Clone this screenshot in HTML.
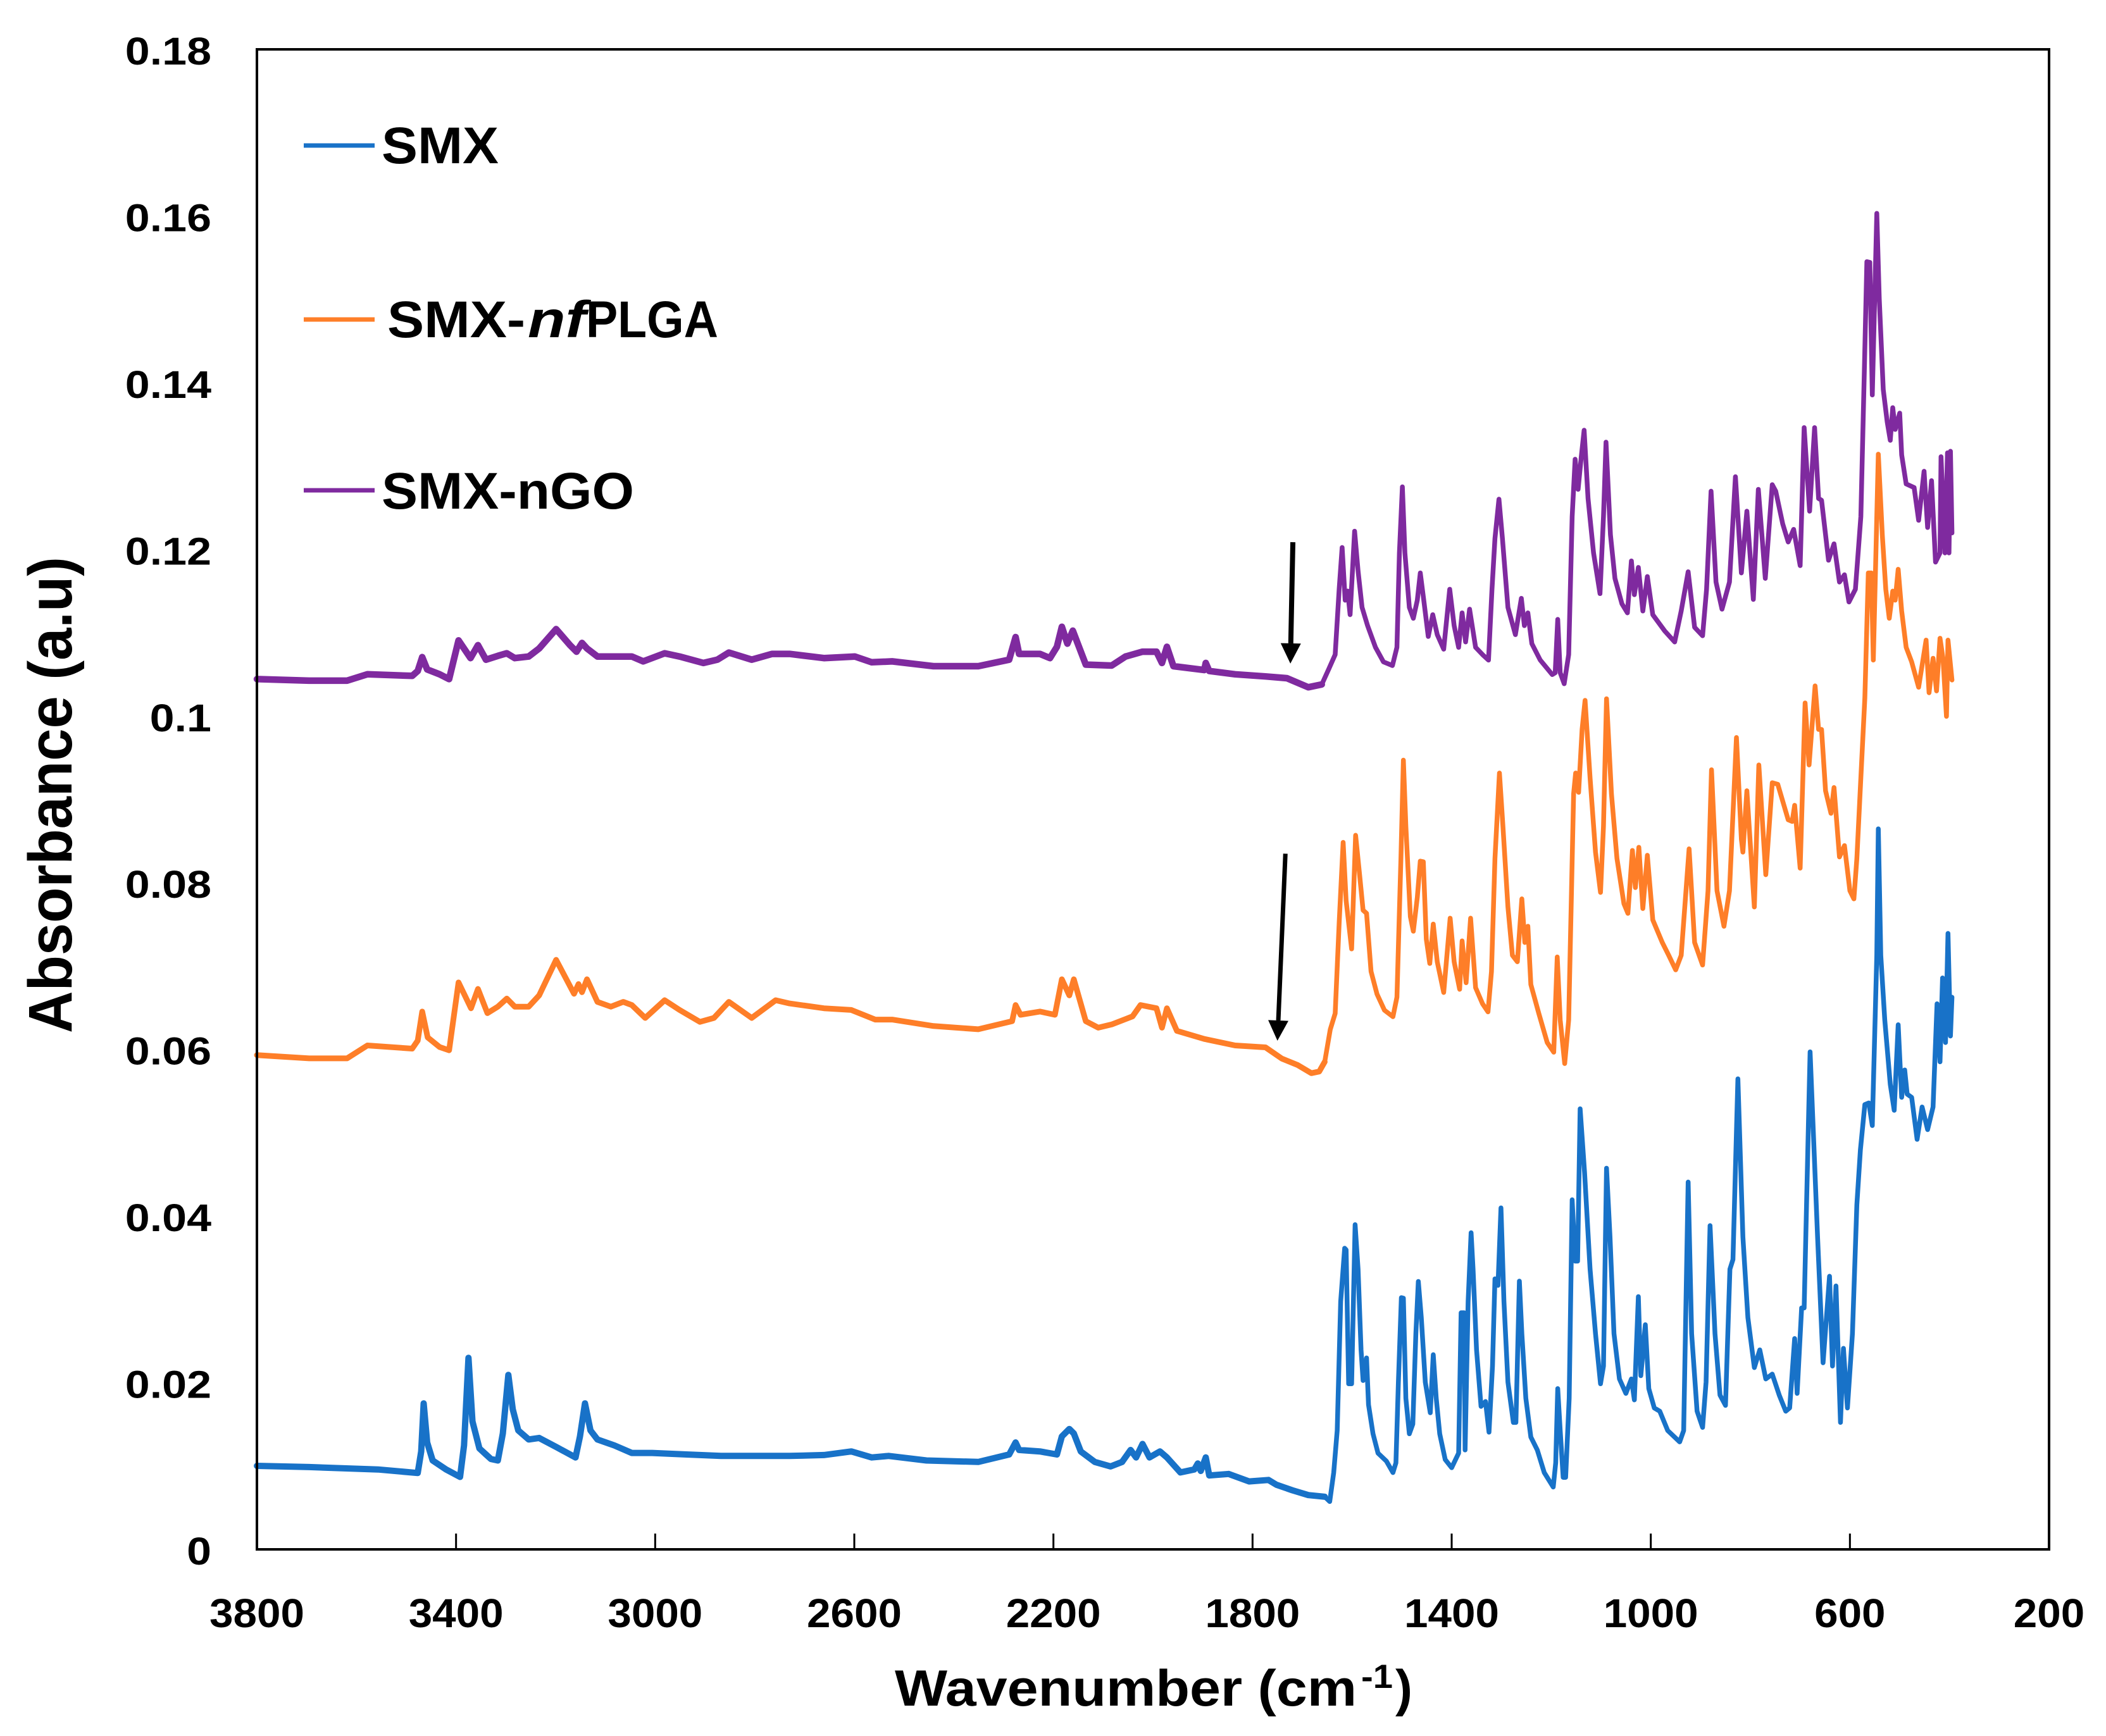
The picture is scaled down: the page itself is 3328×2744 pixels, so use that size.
<!DOCTYPE html>
<html lang="en">
<head>
<meta charset="utf-8">
<title>FTIR absorbance spectra of SMX, SMX-nfPLGA and SMX-nGO</title>
<style>
html,body{margin:0;padding:0;background:#fff;width:3328px;height:2744px;overflow:hidden}
svg{display:block}
text{font-family:"Liberation Sans",sans-serif;font-weight:700;fill:#000}
</style>
</head>
<body>
<svg id="chart" xmlns="http://www.w3.org/2000/svg" width="3328" height="2744" viewBox="0 0 3328 2744">
  <rect x="0" y="0" width="3328" height="2744" fill="#fff"/>
  <g id="series-layer"></g>
  <g id="arrow-layer"></g>
  <rect x="406" y="78" width="2832" height="2371" fill="none" stroke="#000" stroke-width="4"/>
  <g id="x-tick-layer"></g>
  <g id="y-tick-layer"></g>

  <g>
    <text x="1414" y="2696" font-size="81" textLength="730" lengthAdjust="spacingAndGlyphs">Wavenumber (cm</text>
    <text x="2151" y="2668" font-size="53" textLength="50" lengthAdjust="spacingAndGlyphs">-1</text>
    <text x="2205" y="2696" font-size="81" textLength="27" lengthAdjust="spacingAndGlyphs">)</text>
  </g>
  <text transform="translate(113 1633) rotate(-90)" x="0" y="0" font-size="97" textLength="753" lengthAdjust="spacingAndGlyphs">Absorbance (a.u)</text>

  <g>
    <g>
      <line x1="480" x2="592" y1="230" y2="230" stroke="#1872C8" stroke-width="7"/>
      <text x="603" y="258" font-size="82" textLength="185" lengthAdjust="spacingAndGlyphs">SMX</text>
    </g>
    <g>
      <line x1="480" x2="592" y1="505" y2="505" stroke="#FE7E28" stroke-width="7"/>
      <text x="612" y="533" font-size="82" textLength="218" lengthAdjust="spacingAndGlyphs">SMX-</text>
      <text x="834" y="533" font-size="82" font-style="italic" textLength="92" lengthAdjust="spacingAndGlyphs">nf</text>
      <text x="926" y="533" font-size="82" textLength="209" lengthAdjust="spacingAndGlyphs">PLGA</text>
    </g>
    <g>
      <line x1="480" x2="592" y1="775" y2="775" stroke="#7F2A9F" stroke-width="7"/>
      <text x="603" y="804" font-size="82" textLength="399" lengthAdjust="spacingAndGlyphs">SMX-nGO</text>
    </g>
  </g>
</svg>

<script>
const xTickValues = [3800,3400,3000,2600,2200,1800,1400,1000,600,200];
const xTickLabels = ["3800","3400","3000","2600","2200","1800","1400","1000","600","200"];
const yTickValues = [0,0.02,0.04,0.06,0.08,0.1,0.12,0.14,0.16,0.18];
const yTickLabels = ["0","0.02","0.04","0.06","0.08","0.1","0.12","0.14","0.16","0.18"];

const smxWavenumber = [3800,3695,3557,3477,3470,3465,3458,3447,3420,3392,3384,3375,3367,3353,3330,3316,3306,3295,3286,3275,3254,3233,3199,3160,3151,3141,3130,3116,3082,3047,3006,2937,2868,2730,2661,2606,2565,2531,2455,2351,2289,2276,2269,2227,2193,2183,2168,2159,2145,2117,2085,2062,2045,2034,2021,2007,1986,1972,1945,1917,1910,1904,1894,1887,1848,1807,1768,1752,1720,1688,1655,1645,1637,1630,1623,1615,1612,1607,1601,1594,1588,1582,1578,1571,1567,1558,1548,1531,1518,1512,1507,1501,1497,1492,1485,1478,1472,1467,1461,1453,1443,1437,1431,1424,1413,1400,1386,1381,1375,1373,1367,1361,1357,1350,1341,1332,1325,1318,1313,1307,1301,1295,1287,1276,1271,1264,1259,1251,1241,1228,1214,1196,1191,1187,1182,1176,1171,1164,1158,1152,1147,1142,1133,1122,1111,1101,1095,1089,1082,1074,1063,1050,1039,1033,1025,1020,1011,1004,993,982,966,942,934,925,918,907,896,889,881,871,861,850,841,835,825,815,805,792,781,769,756,742,729,721,711,706,697,692,680,665,654,641,635,628,619,613,605,595,586,579,570,562,555,546,543,538,530,519,511,503,496,490,485,476,465,455,444,433,425,419,414,408,403,398,395];
const smxAbsorbance = [.01002,.00988,.00959,.00916,.01175,.01752,.01283,.01067,.00959,.00869,.01247,.02299,.01535,.01211,.01085,.01067,.01391,.02094,.0168,.01427,.01319,.01337,.01229,.01103,.01355,.01752,.01427,.01319,.01247,.01157,.01157,.01139,.01121,.01121,.01132,.01175,.01103,.01121,.01067,.01049,.01139,.01283,.01193,.01175,.01139,.01355,.01445,.01391,.01175,.01049,.00995,.01049,.01193,.01103,.01265,.01103,.01175,.01103,.00923,.00959,.01031,.00941,.01103,.00887,.00905,.00815,.00833,.00775,.00709,.00651,.00632,.00574,.00922,.01426,.02975,.03614,.03595,.01987,.01987,.03897,.03362,.02394,.02026,.02297,.01736,.01387,.01155,.01058,.00922,.01038,.02007,.03021,.03014,.01813,.01387,.01503,.02588,.03215,.02781,.02007,.01639,.02336,.01813,.01387,.01077,.0098,.01155,.02839,.02839,.01193,.02975,.038,.03362,.02394,.01716,.01774,.01406,.022,.03246,.03168,.04098,.02975,.02007,.01523,.01523,.03219,.02588,.01813,.01348,.01193,.00922,.00748,.01038,.01929,.01426,.00864,.00864,.01813,.04195,.03459,.03459,.05287,.04524,.03362,.02588,.01987,.022,.04574,.0375,.02588,.02045,.01871,.02045,.01794,.03033,.02084,.02696,.01929,.01697,.01658,.01426,.0129,.01426,.04408,.02588,.01658,.01464,.02007,.03885,.02588,.01852,.01728,.03362,.03478,.05647,.0375,.02781,.02181,.02394,.02045,.02103,.01852,.01658,.01697,.0253,.01871,.02897,.02897,.0597,.0375,.02239,.03277,.022,.03161,.01523,.02413,.01697,.02588,.04137,.04795,.05337,.05357,.05086,.07128,.08646,.07128,.06353,.05579,.05269,.06295,.05424,.05753,.05463,.05424,.0492,.05308,.05037,.05308,.06547,.0585,.06857,.06082,.07391,.0616,.06625];

const nfplgaWavenumber = [3800,3695,3619,3578,3488,3477,3468,3457,3433,3414,3395,3370,3356,3337,3316,3298,3282,3254,3233,3199,3163,3154,3147,3137,3116,3089,3064,3047,3020,2981,2951,2910,2882,2852,2806,2758,2730,2661,2606,2558,2524,2441,2351,2283,2276,2266,2227,2197,2183,2168,2159,2135,2110,2083,2041,2025,1993,1982,1972,1952,1897,1835,1774,1741,1709,1682,1666,1655,1644,1634,1626,1618,1612,1601,1593,1585,1578,1571,1562,1550,1535,1518,1510,1502,1497,1492,1483,1477,1469,1463,1457,1451,1444,1437,1429,1416,1403,1395,1384,1379,1371,1362,1352,1338,1327,1320,1313,1304,1297,1287,1278,1268,1259,1253,1247,1241,1225,1208,1195,1188,1182,1173,1165,1155,1151,1145,1138,1132,1122,1111,1101,1095,1089,1079,1068,1054,1046,1037,1031,1024,1016,1007,996,977,964,950,939,923,912,896,885,878,867,853,842,828,818,815,807,792,783,769,756,745,724,716,711,700,690,682,670,663,657,649,638,632,621,611,600,592,586,578,570,563,557,553,543,535,528,521,514,509,503,496,487,476,462,447,441,433,426,419,413,406,403,395];
const nfplgaAbsorbance = [.05931,.05892,.05892,.06047,.06009,.06105,.06454,.06144,.06028,.05989,.06803,.06493,.06725,.06435,.06512,.06609,.06512,.06512,.06648,.07074,.06667,.06783,.06686,.06841,.0657,.06512,.0657,.06532,.06377,.0659,.06473,.0633,.06377,.0657,.06377,.0659,.06551,.06493,.06473,.06357,.06357,.0628,.06241,.06338,.06532,.06415,.06454,.06415,.06841,.06648,.06841,.06338,.0626,.06299,.06396,.06532,.06493,.0626,.06493,.06222,.06125,.06047,.06024,.05889,.05811,.05714,.05734,.0585,.06237,.06431,.07515,.08484,.07786,.07205,.08569,.08096,.0767,.07632,.06934,.06663,.0647,.06392,.06625,.0829,.09471,.08677,.07593,.07418,.07825,.08259,.08251,.07322,.07031,.07504,.07051,.06683,.07574,.07051,.06721,.07302,.06799,.07574,.06741,.06547,.0645,.06934,.0829,.09316,.08677,.07709,.07128,.07051,.07806,.07283,.07477,.06779,.06431,.06082,.05966,.07109,.06353,.0583,.06353,.09065,.09316,.09084,.09839,.10188,.09258,.08367,.07883,.08677,.10207,.09065,.0829,.07748,.07632,.08387,.07941,.08425,.0769,.08329,.07554,.07283,.07128,.06954,.07128,.08406,.07283,.07012,.07903,.09355,.07903,.07477,.07903,.09742,.08522,.08367,.09103,.07709,.09413,.08096,.092,.09181,.08755,.08735,.08929,.08174,.10157,.09413,.10362,.09839,.09839,.09103,.08832,.09142,.08309,.08445,.07903,.07806,.0829,.09258,.10214,.11717,.11717,.10671,.13142,.12175,.11521,.11173,.11499,.11391,.11761,.1126,.10824,.1065,.10345,.10911,.10279,.10693,.10301,.10933,.10693,.09996,.10911,.10432];

const ngoWavenumber = [3800,3695,3619,3578,3488,3477,3468,3458,3433,3414,3395,3371,3356,3340,3316,3298,3282,3254,3233,3199,3171,3158,3147,3137,3116,3047,3024,2981,2951,2903,2875,2852,2806,2765,2730,2661,2599,2565,2524,2441,2351,2289,2276,2269,2227,2207,2193,2183,2172,2161,2135,2083,2055,2021,1993,1982,1972,1959,1897,1894,1887,1835,1774,1731,1688,1661,1647,1634,1626,1620,1614,1609,1604,1595,1588,1580,1569,1553,1537,1519,1510,1505,1499,1494,1485,1477,1469,1463,1456,1447,1438,1429,1416,1404,1395,1386,1379,1372,1364,1352,1338,1326,1319,1313,1305,1298,1287,1272,1260,1254,1247,1239,1222,1198,1192,1187,1182,1174,1165,1158,1152,1146,1140,1134,1126,1115,1102,1095,1090,1081,1072,1058,1047,1039,1033,1025,1016,1007,996,972,952,939,925,912,896,888,879,869,857,842,830,818,807,794,784,770,756,749,735,724,713,700,692,681,671,663,657,643,632,621,611,602,589,578,571,566,560,555,546,541,533,525,519,514,509,500,496,487,471,462,451,444,436,428,419,417,409,404,401,398,395];
const ngoAbsorbance = [.10443,.10424,.10424,.10501,.10482,.1054,.10707,.10559,.10501,.10443,.10908,.10695,.1085,.10676,.10722,.10753,.10695,.10714,.10811,.11043,.1085,.10772,.10877,.10811,.10714,.10714,.10656,.10753,.10714,.10637,.10676,.10761,.10676,.10745,.10745,.10695,.10714,.10645,.10656,.10598,.10598,.10676,.10947,.10745,.10745,.10695,.1083,.11071,.10869,.11024,.10617,.10606,.10714,.10772,.10772,.10637,.1083,.10598,.10552,.10637,.1054,.10501,.10475,.10454,.10345,.10379,.10562,.10737,.11521,.12022,.1139,.11499,.11216,.12218,.11739,.11303,.11085,.10824,.1065,.10606,.10824,.11957,.1275,.11957,.11303,.11173,.1139,.11717,.1139,.10955,.11216,.10977,.10802,.11521,.11085,.10824,.11238,.10889,.11282,.10824,.10737,.10671,.11521,.12131,.12602,.12131,.11303,.10977,.11412,.11085,.11238,.10868,.10671,.10497,.10519,.1116,.10519,.10388,.10737,.12393,.13081,.1272,.1309,.1343,.12611,.11957,.11469,.12393,.13286,.12175,.11652,.11347,.11238,.11861,.11456,.11783,.1126,.11674,.11216,.1102,.10889,.1126,.11731,.11064,.10963,.11521,.12698,.11608,.11282,.11608,.12872,.11717,.12458,.11399,.1272,.11652,.12776,.12698,.12306,.12088,.1224,.11805,.13461,.12458,.13461,.12611,.12589,.1187,.12066,.11608,.11695,.11369,.11521,.12393,.14136,.15452,.15443,.13853,.16032,.15008,.13918,.13526,.13308,.137,.13439,.13635,.13134,.12785,.12741,.12349,.12937,.12262,.12825,.11847,.11957,.13112,.11957,.13159,.11957,.13177,.12197];

const arrowNgoWavenumber = [1719,1724];
const arrowNgoAbsorbance = [.12086,.10629];
const arrowNfplgaWavenumber = [1734,1750];
const arrowNfplgaAbsorbance = [.08348,.06104];

const SVG_NS = "http://www.w3.org/2000/svg";
const plotLeft = 406, plotRight = 3238, plotTop = 78, plotBottom = 2449;
const xAxisMax = 3800, xAxisMin = 200, yAxisMax = 0.18;
const noisyRegionEnd = 1650;

function xScale(w){ return plotLeft + (xAxisMax - w) / (xAxisMax - xAxisMin) * (plotRight - plotLeft); }
function yScale(a){ return plotBottom - a / yAxisMax * (plotBottom - plotTop); }
function labelEm(s){ let e = 0; for (const c of s) e += (c === "." ? 0.278 : 0.556); return e; }

const seriesLayer = document.getElementById("series-layer");
function seriesPoints(wavenumbers, values, keep){
  const out = [];
  wavenumbers.forEach((w,i) => { if (keep(w)) out.push(xScale(w).toFixed(1) + "," + yScale(values[i]).toFixed(1)); });
  return out.join(" ");
}
function drawSeries(wavenumbers, values, color, bandWidth, name){
  const line = document.createElementNS(SVG_NS, "polyline");
  line.setAttribute("points", seriesPoints(wavenumbers, values, () => true));
  line.setAttribute("fill", "none");
  line.setAttribute("stroke", color);
  line.setAttribute("stroke-width", "7.5");
  line.setAttribute("stroke-linejoin", "round");
  line.setAttribute("stroke-linecap", "round");
  
  
  seriesLayer.appendChild(line);
  const band = document.createElementNS(SVG_NS, "polyline");
  band.setAttribute("points", seriesPoints(wavenumbers, values, w => w >= noisyRegionEnd));
  band.setAttribute("fill", "none");
  band.setAttribute("stroke", color);
  band.setAttribute("stroke-width", bandWidth);
  band.setAttribute("stroke-linejoin", "round");
  band.setAttribute("stroke-linecap", "round");
  
  
  seriesLayer.appendChild(band);
}
drawSeries(smxWavenumber, smxAbsorbance, "#1872C8", "10", "series-smx");
drawSeries(nfplgaWavenumber, nfplgaAbsorbance, "#FE7E28", "9", "series-smx-nfplga");
drawSeries(ngoWavenumber, ngoAbsorbance, "#7F2A9F", "10.5", "series-smx-ngo");

const arrowLayer = document.getElementById("arrow-layer");
function drawArrow(wavenumbers, values, width, name){
  const x1 = xScale(wavenumbers[0]), y1 = yScale(values[0]);
  const x2 = xScale(wavenumbers[1]), y2 = yScale(values[1]);
  const len = Math.hypot(x2 - x1, y2 - y1), ux = (x2 - x1) / len, uy = (y2 - y1) / len;
  const bx = x2 - ux * 32, by = y2 - uy * 32;
  const shaft = document.createElementNS(SVG_NS, "line");
  shaft.setAttribute("x1", x1); shaft.setAttribute("y1", y1);
  shaft.setAttribute("x2", bx); shaft.setAttribute("y2", by);
  shaft.setAttribute("stroke", "#000");
  shaft.setAttribute("stroke-width", width);
  
  
  arrowLayer.appendChild(shaft);
  const head = document.createElementNS(SVG_NS, "polygon");
  head.setAttribute("points", [x2 + "," + y2, (bx - uy * 16) + "," + (by + ux * 16), (bx + uy * 16) + "," + (by - ux * 16)].join(" "));
  head.setAttribute("fill", "#000");
  
  
  arrowLayer.appendChild(head);
}
drawArrow(arrowNgoWavenumber, arrowNgoAbsorbance, 8, "arrow-smx-ngo");
drawArrow(arrowNfplgaWavenumber, arrowNfplgaAbsorbance, 7, "arrow-smx-nfplga");

const xTickLayer = document.getElementById("x-tick-layer");
xTickValues.forEach((v,i) => {
  const x = xScale(v);
  const tick = document.createElementNS(SVG_NS, "line");
  tick.setAttribute("x1", x); tick.setAttribute("x2", x);
  tick.setAttribute("y1", plotBottom); tick.setAttribute("y2", plotBottom - 25);
  tick.setAttribute("stroke", "#000");
  tick.setAttribute("stroke-width", "3");
  
  
  xTickLayer.appendChild(tick);
  const label = document.createElementNS(SVG_NS, "text");
  label.textContent = xTickLabels[i];
  label.setAttribute("x", x - labelEm(xTickLabels[i]) * 67.4 / 2);
  label.setAttribute("y", 2572);
  label.setAttribute("font-size", "64");
  label.setAttribute("textLength", (labelEm(xTickLabels[i]) * 67.4).toFixed(1));
  label.setAttribute("lengthAdjust", "spacingAndGlyphs");
  
  
  xTickLayer.appendChild(label);
});

const yTickLayer = document.getElementById("y-tick-layer");
yTickValues.forEach((v,i) => {
  const width = labelEm(yTickLabels[i]) * 70;
  const label = document.createElementNS(SVG_NS, "text");
  label.textContent = yTickLabels[i];
  label.setAttribute("x", (334 - width).toFixed(1));
  label.setAttribute("y", (yScale(v) + 24).toFixed(1));
  label.setAttribute("font-size", "61");
  label.setAttribute("textLength", width.toFixed(1));
  label.setAttribute("lengthAdjust", "spacingAndGlyphs");
  
  
  yTickLayer.appendChild(label);
});
</script>
</body>
</html>
